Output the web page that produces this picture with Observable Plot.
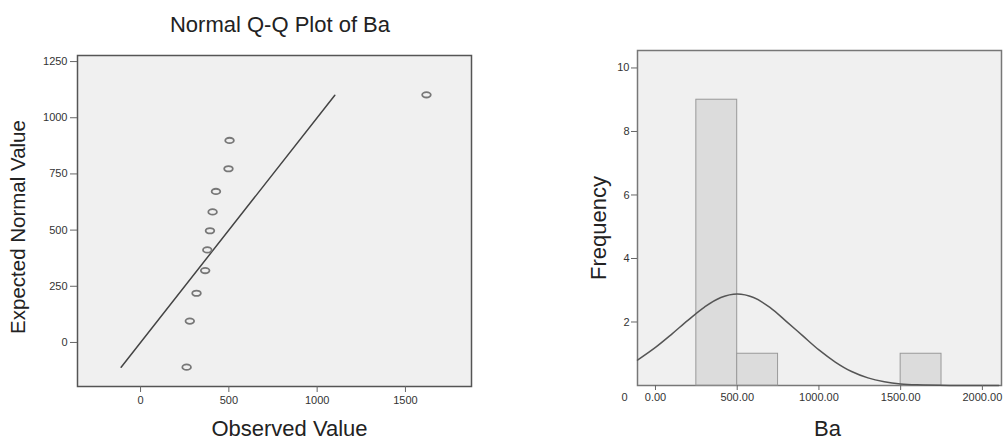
<!DOCTYPE html>
<html><head><meta charset="utf-8">
<script src="https://cdn.jsdelivr.net/npm/d3@7"></script>
<script src="https://cdn.jsdelivr.net/npm/@observablehq/plot@0.6"></script>
<style>
body{margin:0;background:#fff;font-family:"Liberation Sans",Arial,sans-serif;}
#wrap{position:relative;width:1003px;height:442px;overflow:hidden;background:#fff;}
#qq{position:absolute;left:0;top:0;}
#hist{position:absolute;left:520px;top:0;}
#title{position:absolute;left:80px;width:400px;top:11px;text-align:center;font-size:22px;color:#222;line-height:28px;}
</style></head><body>
<div id="wrap"><div id="title">Normal Q-Q Plot of Ba</div><div id="qq"></div><div id="hist"></div></div>
<script>
const observed = [261, 279, 317, 366, 378, 393, 408, 427, 498, 504, 1619];
// Expected normal values (Q-Q plot y positions)
const expected = [-110, 95, 219, 320, 412, 497, 581, 672, 773, 899, 1102];
// Reference line end points (y = x)
const refLine = [-110, 1100];
const qqXTicks = [0, 500, 1000, 1500];
const qqYTicks = [0, 250, 500, 750, 1000, 1250];
// Histogram
const binEdges = [0, 250, 500, 750, 1000, 1250, 1500, 1750, 2000];
const histXTicks = [0, 500, 1000, 1500, 2000];
const histYTicks = [2, 4, 6, 8, 10];
// Normal curve
const curveX = [-110, 0, 100, 200, 300, 400, 500, 600, 700, 800, 900, 1000, 1100, 1200, 1300, 1400, 1500, 1600, 1800, 2100];
const curveY = [0.80, 1.20, 1.62, 2.06, 2.47, 2.77, 2.88, 2.77, 2.46, 2.02, 1.57, 1.12, 0.74, 0.44, 0.24, 0.12, 0.05, 0.02, 0.0, 0.0];

const font = "Liberation Sans, Arial, sans-serif";
const ellipse = {
  draw(ctx) {
    const rx = 4.3, ry = 2.7, k = 0.5523;
    ctx.moveTo(rx, 0);
    ctx.bezierCurveTo(rx, ry * k, rx * k, ry, 0, ry);
    ctx.bezierCurveTo(-rx * k, ry, -rx, ry * k, -rx, 0);
    ctx.bezierCurveTo(-rx, -ry * k, -rx * k, -ry, 0, -ry);
    ctx.bezierCurveTo(rx * k, -ry, rx, -ry * k, rx, 0);
    ctx.closePath();
  }
};

const qqData = observed.map((v, i) => ({x: v, y: expected[i]}));
const lineData = refLine.map(v => ({x: v, y: v}));

const qq = Plot.plot({
  width: 500, height: 442,
  marginLeft: 77, marginRight: 29, marginTop: 55, marginBottom: 56,
  style: {fontFamily: font, fontSize: "11px", color: "#333", background: "transparent"},
  x: {domain: [-357, 1874]},
  y: {domain: [-196, 1277]},
  marks: [
    Plot.frame({fill: "#f0f0f0", stroke: "#555", strokeWidth: 1.5}),
    Plot.axisX({ticks: qqXTicks, tickFormat: d3.format("d"), tickSize: 6, tickPadding: 4, stroke: "#666", label: null}),
    Plot.axisY({ticks: qqYTicks, tickFormat: d3.format("d"), tickSize: 7, tickPadding: 3, stroke: "#666", label: null}),
    Plot.line(lineData, {x: "x", y: "y", stroke: "#444", strokeWidth: 1.5}),
    Plot.dot(qqData, {x: "x", y: "y", symbol: ellipse, fill: "none", stroke: "#777", strokeWidth: 1.8}),
    Plot.text(["Observed Value"], {frameAnchor: "bottom", textAnchor: "middle", lineAnchor: "middle", dx: 15, dy: 42, fontSize: 22, fill: "#222"}),
    Plot.text(["Expected Normal Value"], {frameAnchor: "left", textAnchor: "middle", lineAnchor: "middle", rotate: -90, dx: -59, dy: 6, fontSize: 20.5, fill: "#222"})
  ]
});
document.getElementById("qq").appendChild(qq);

const curveData = curveX.map((v, i) => ({x: v, y: curveY[i]}));

const hist = Plot.plot({
  width: 483, height: 442,
  marginLeft: 117, marginRight: 2, marginTop: 50, marginBottom: 57,
  style: {fontFamily: font, fontSize: "11px", color: "#333", background: "transparent"},
  x: {domain: [-110, 2117]},
  y: {domain: [0, 10.55]},
  marks: [
    Plot.frame({fill: "#f0f0f0", stroke: "#777", strokeWidth: 1.5}),
    Plot.rectY(observed, Plot.binX({y: "count"}, {x: d => d, thresholds: binEdges, fill: "#dcdcdc", stroke: "#999", strokeWidth: 1, insetLeft: 0, insetRight: 0})),
    Plot.line(curveData, {x: "x", y: "y", curve: "catmull-rom", stroke: "#555", strokeWidth: 1.5}),
    Plot.axisX({ticks: histXTicks, tickFormat: d3.format(".2f"), tickSize: 5, tickPadding: 3, stroke: "#666", label: null}),
    Plot.axisY({ticks: histYTicks, tickSize: 6, tickPadding: 2, stroke: "#666", label: null}),
    Plot.axisY({ticks: [0], tickSize: 0, tickPadding: 10, dy: 12, label: null}),
    Plot.text(["Frequency"], {frameAnchor: "left", textAnchor: "middle", lineAnchor: "middle", rotate: -90, dx: -39, dy: 10, fontSize: 22, fill: "#222"}),
    Plot.text(["Ba"], {frameAnchor: "bottom", textAnchor: "middle", lineAnchor: "middle", dx: 8, dy: 43, fontSize: 22, fill: "#222"})
  ]
});
document.getElementById("hist").appendChild(hist);
</script>
</body></html>
